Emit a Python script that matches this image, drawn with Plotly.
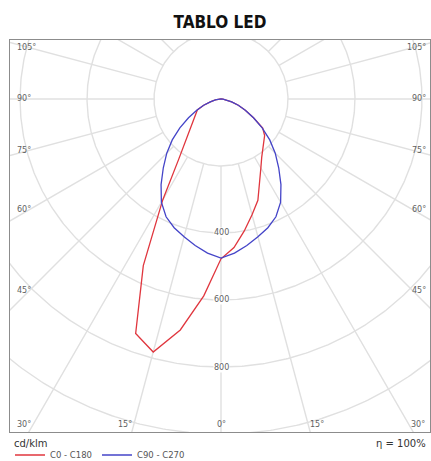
import numpy as np
import plotly.graph_objects as go

# ---------------- data (cd/klm) ----------------
TITLE = "TABLO LED"
ANGLES = [0, 5, 10, 15, 20, 25, 30, 35, 40, 45, 50, 55, 60, 65, 70, 75, 80, 85, 90]
I_C0 = [477, 445, 400, 358, 322, 275, 238, 212, 195, 182, 170, 152, 112, 80, 55, 33, 17, 6, 0]
I_C180 = [477, 590, 700, 782, 745, 549, 348, 221, 164, 131, 110, 96, 86, 78, 55, 33, 17, 6, 0]
I_C90 = [475, 462, 444, 426, 409, 388, 356, 312, 268, 229, 190, 150, 112, 80, 55, 33, 17, 6, 0]
I_C270 = [475, 462, 444, 426, 409, 388, 356, 312, 268, 229, 190, 150, 112, 80, 55, 33, 17, 6, 0]
RING_VALUES = [200, 400, 600, 800, 1000, 1200]
RING_LABELS = [400, 600, 800]
SPOKE_ANGLES = list(range(0, 360, 15))
ANGLE_LABELS = [105, 90, 75, 60, 45, 30, 15, 0]
SERIES_NAMES = ["C0 - C180", "C90 - C270"]
UNIT_TEXT = "cd/klm"
ETA_TEXT = "η = 100%"

# ---------------- geometry ----------------
W, H = 431, 461
ML, MR, MT, MB = 10, 1, 40, 29
X_RANGE = [-630, 624]
Y_RANGE = [-994, 176]
PX = (W - ML - MR) / (X_RANGE[1] - X_RANGE[0])   # px per cd

GRID = "#e0e0e0"
LABEL_FONT = dict(family="DejaVu Sans", size=8, color="#5f5f5f")


def polar_xy(theta_deg, r):
    t = np.radians(np.asarray(theta_deg, dtype=float))
    r = np.asarray(r, dtype=float)
    return r * np.sin(t), -r * np.cos(t)


def half_plane_curve(left_vals, right_vals):
    th = [-a for a in ANGLES[::-1]] + ANGLES[1:]
    rr = list(left_vals[::-1]) + list(right_vals[1:])
    return polar_xy(th, rr)


fig = go.Figure()

# grid rings
gx, gy = [], []
tt = np.linspace(0, 360, 721)
for R in RING_VALUES:
    x, y = polar_xy(tt, np.full_like(tt, R))
    gx += list(x) + [None]
    gy += list(y) + [None]
# spokes (start at innermost ring)
for a in SPOKE_ANGLES:
    x, y = polar_xy([a, a], [RING_VALUES[0], 1600])
    gx += list(x) + [None]
    gy += list(y) + [None]
fig.add_trace(go.Scatter(x=gx, y=gy, mode="lines", line=dict(color=GRID, width=1.4),
                         hoverinfo="skip", showlegend=False))

# curves
rx, ry = half_plane_curve(I_C180, I_C0)
fig.add_trace(go.Scatter(x=rx, y=ry, mode="lines", name=SERIES_NAMES[0],
                         line=dict(color="#e0363e", width=1.3)))
bx, by = half_plane_curve(I_C270, I_C90)
fig.add_trace(go.Scatter(x=bx, y=by, mode="lines", name=SERIES_NAMES[1],
                         line=dict(color="#4444c8", width=1.3)))

annotations = []
# ring value labels along the 0° spoke
for R in RING_LABELS:
    annotations.append(dict(x=0, y=-R, xref="x", yref="y", text=str(R), showarrow=False,
                            font=LABEL_FONT, bgcolor="white", borderpad=0))

# angle labels at the frame
side_lim = 191 / PX
bottom_lim = 325 / PX
left_x = X_RANGE[0] + 5 / PX
right_x = X_RANGE[1] - 2 / PX
for a in ANGLE_LABELS:
    sides = [1] if a == 0 else [-1, 1]
    for s in sides:
        sa, ca = np.sin(np.radians(a)), np.cos(np.radians(a))
        tx = side_lim / sa if sa > 1e-9 else np.inf
        ty = bottom_lim / ca if ca > 1e-9 else np.inf
        txt = f"{a}°"
        if tx <= ty:
            yv = -tx * ca
            annotations.append(dict(x=left_x if s < 0 else right_x, y=yv, xref="x", yref="y",
                                    text=txt, showarrow=False, font=LABEL_FONT,
                                    xanchor="left" if s < 0 else "right", yanchor="middle"))
        else:
            xv = s * ty * sa
            anchor = "center" if a == 0 else ("right" if s < 0 else "left")
            annotations.append(dict(x=xv, y=-bottom_lim, xref="x", yref="y", text=txt,
                                    showarrow=False, font=LABEL_FONT,
                                    xanchor=anchor, yanchor="middle"))

pw, ph = W - ML - MR, H - MT - MB
annotations.append(dict(x=(12 - ML) / pw, y=(H - MB - 443) / ph, xref="paper", yref="paper",
                        text=UNIT_TEXT, showarrow=False, xanchor="left", yanchor="middle",
                        font=dict(family="DejaVu Sans", size=10, color="#333")))
annotations.append(dict(x=(428 - ML) / pw, y=(H - MB - 444) / ph, xref="paper", yref="paper",
                        text=ETA_TEXT, showarrow=False, xanchor="right", yanchor="middle",
                        font=dict(family="DejaVu Sans", size=10, color="#333")))

fig.update_layout(
    width=W, height=H,
    margin=dict(l=ML, r=MR, t=MT, b=MB, pad=0, autoexpand=False),
    paper_bgcolor="white", plot_bgcolor="white",
    title=dict(text=TITLE, x=0.5, xref="paper", xanchor="center", y=1 - 22 / H,
               yanchor="middle",
               font=dict(family="Liberation Sans Narrow, DejaVu Sans Condensed, Roboto",
                         size=17, color="#111", weight="bold")),
    xaxis=dict(range=X_RANGE, showgrid=False, zeroline=False, showticklabels=False,
               ticks="", showline=True, mirror=True, linecolor="#8c8c8c", linewidth=1,
               fixedrange=True),
    yaxis=dict(range=Y_RANGE, showgrid=False, zeroline=False, showticklabels=False,
               ticks="", showline=True, mirror=True, linecolor="#8c8c8c", linewidth=1,
               fixedrange=True),
    showlegend=True,
    legend=dict(orientation="h", x=0, xanchor="left", y=(H - MB - 455) / ph,
                yanchor="middle",
                font=dict(family="DejaVu Sans", size=8.5, color="#555"),
                bgcolor="rgba(0,0,0,0)", itemwidth=30, tracegroupgap=0),
    annotations=annotations,
)

fig.write_html(
    "out.html",
    config={"displayModeBar": False},
    post_script="document.documentElement.style.margin='0';"
                "document.body.style.margin='0';"
                "document.body.style.overflow='hidden';",
)
